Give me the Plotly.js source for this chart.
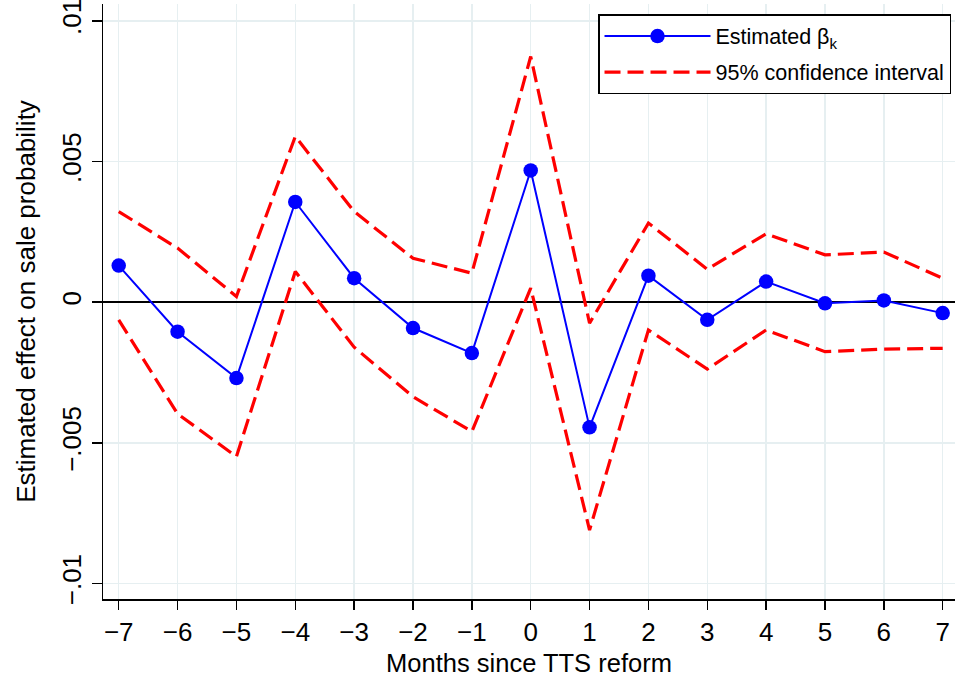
<!DOCTYPE html>
<html>
<head>
<meta charset="utf-8">
<script src="https://cdn.plot.ly/plotly-3.0.1.min.js"></script>
<style>html,body{margin:0;padding:0;background:#fff;}#chart{width:955px;height:677px;}</style>
</head>
<body>
<div id="chart"></div>
<script>
var months = [-7, -6, -5, -4, -3, -2, -1, 0, 1, 2, 3, 4, 5, 6, 7];
var beta = [0.0013, -0.00105, -0.0027, 0.00356, 0.00085, -0.00092, -0.00181, 0.00468, -0.00445, 0.00094, -0.00063, 0.00073, -0.00004, 0.00006, -0.00039];
var ciUpper = [0.00322, 0.00192, 0.0002, 0.00589, 0.00322, 0.00156, 0.00103, 0.00873, -0.00075, 0.00281, 0.00117, 0.00243, 0.00168, 0.00178, 0.00085];
var ciLower = [-0.00063, -0.00397, -0.00549, 0.00109, -0.0016, -0.00336, -0.0046, 0.0005, -0.0081, -0.00099, -0.00238, -0.00099, -0.00176, -0.00167, -0.00164];
var yTickVals = [-0.01, -0.005, 0, 0.005, 0.01];
var yTickText = ['\u2212.01', '\u2212.005', '0', '.005', '.01'];
var xTickText = ['\u22127', '\u22126', '\u22125', '\u22124', '\u22123', '\u22122', '\u22121', '0', '1', '2', '3', '4', '5', '6', '7'];

var FONT = '"Liberation Sans", Arial, Helvetica, sans-serif';

var traces = [
  {
    x: months, y: beta, type: 'scatter', mode: 'lines+markers',
    name: 'Estimated \u03B2<sub>k</sub>',
    line: {color: '#0000ff', width: 2},
    marker: {color: '#0000ff', size: 14.5, symbol: 'circle'}
  },
  {
    x: months, y: ciUpper, type: 'scatter', mode: 'lines',
    name: '95% confidence interval', legendgroup: 'ci',
    line: {color: '#ff0000', width: 3.2, dash: '16px,7px'}
  },
  {
    x: months, y: ciLower, type: 'scatter', mode: 'lines',
    name: '95% confidence interval', legendgroup: 'ci', showlegend: false,
    line: {color: '#ff0000', width: 3.2, dash: '16px,7px'}
  }
];

var layout = {
  width: 955, height: 677,
  margin: {l: 103, r: 0, t: 4, b: 78, pad: 0},
  paper_bgcolor: '#ffffff', plot_bgcolor: '#ffffff',
  font: {family: FONT, color: '#000000', size: 26},
  showlegend: true,
  legend: {
    x: 0.581, y: 0.983, xanchor: 'left', yanchor: 'top',
    bgcolor: '#ffffff', bordercolor: '#000000', borderwidth: 1.5,
    font: {family: FONT, size: 21.5, color: '#000000'},
    itemwidth: 106, tracegroupgap: 5
  },
  xaxis: {
    range: [-7.267, 7.209],
    tickmode: 'array', tickvals: months, ticktext: xTickText,
    ticks: 'outside', ticklen: 9, tickwidth: 1.5, tickcolor: '#000000',
    showline: true, linecolor: '#000000', linewidth: 1.5,
    showgrid: true, gridcolor: '#e6eff1', gridwidth: 1.5,
    zeroline: false,
    tickfont: {family: FONT, size: 26, color: '#000000'},
    title: {text: 'Months since TTS reform', font: {family: FONT, size: 25.5, color: '#000000'}, standoff: 14}
  },
  yaxis: {
    range: [-0.010551, 0.010597],
    tickmode: 'array', tickvals: yTickVals, ticktext: yTickText,
    tickangle: -90, ticklabeloverflow: 'allow',
    ticks: 'outside', ticklen: 10, tickwidth: 1.5, tickcolor: '#000000',
    showline: true, linecolor: '#000000', linewidth: 1.5,
    showgrid: true, gridcolor: '#e6eff1', gridwidth: 1.5,
    zeroline: true, zerolinecolor: '#000000', zerolinewidth: 2,
    tickfont: {family: FONT, size: 26, color: '#000000'},
    title: {text: 'Estimated effect on sale probability', font: {family: FONT, size: 26, color: '#000000'}, standoff: 14}
  }
};

Plotly.newPlot('chart', traces, layout, {displayModeBar: false, staticPlot: true});
</script>
</body>
</html>
